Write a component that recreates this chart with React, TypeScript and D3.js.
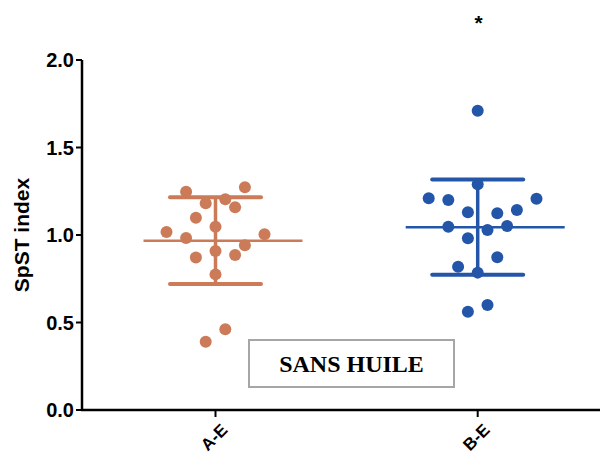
import React from "react";
import * as d3 from "d3";

const categories = ["A-E", "B-E"];
const seriesA = [1.247, 1.273, 1.181, 1.204, 1.158, 1.099, 1.047, 1.017, 0.983, 1.004, 0.941, 0.909, 0.872, 0.886, 0.775, 0.461, 0.39];
const lanesA = [-3, 3, -1, 1, 2, -2, 0, -5, -3, 5, 3, 0, -2, 2, 0, 1, -1];
const seriesB = [1.71, 1.29, 1.21, 1.2, 1.207, 1.13, 1.124, 1.143, 1.047, 1.029, 1.051, 0.981, 0.873, 0.819, 0.785, 0.6, 0.562];
const lanesB = [0, 0, -5, -3, 6, -1, 2, 4, -3, 1, 3, -1, 2, -2, 0, 1, -1];
const yTicks = [0, 0.5, 1.0, 1.5, 2.0];
const colors = ["#cc7b59", "#2356a8"];
const yLabel = "SpST index";
const boxLabel = "SANS HUILE";
const significance = ["", "*"];

export default function App() {
  const W = 600, H = 457;
  const axisX = 82, axisY = 410;
  const y = d3.scaleLinear().domain([0, 2]).range([axisY, 60]);
  const x = d3.scalePoint().domain(categories).range([215.5, 477.7]);
  const lane = d3.scaleLinear().domain([0, 1]).range([0, 9.8]);
  const groups = [
    { vals: seriesA, lanes: lanesA },
    { vals: seriesB, lanes: lanesB },
  ];
  const font = "'Liberation Sans', Arial, sans-serif";
  return (
    <svg width={W} height={H} style={{ position: "absolute", left: 0, top: 0, background: "#fff" }}>
      {/* y axis */}
      <line x1={axisX} x2={axisX} y1={y(2)} y2={axisY} stroke="#000" strokeWidth={2.5} />
      {yTicks.map((t) => (
        <g key={t}>
          <line x1={axisX - 6} x2={axisX} y1={y(t)} y2={y(t)} stroke="#000" strokeWidth={2} />
          <text x={axisX - 8} y={y(t)} dy="0.36em" textAnchor="end" fontFamily={font} fontWeight="bold" fontSize={20} fill="#000">
            {d3.format(".1f")(t)}
          </text>
        </g>
      ))}
      <text transform={`translate(29,${y(1)}) rotate(-90)`} textAnchor="middle" fontFamily={font} fontWeight="bold" fontSize={21} fill="#000">
        {yLabel}
      </text>
      {/* x axis */}
      <line x1={axisX - 1} x2={W} y1={axisY} y2={axisY} stroke="#000" strokeWidth={2.5} />
      {categories.map((c) => (
        <g key={c}>
          <line x1={x(c)!} x2={x(c)!} y1={axisY} y2={axisY + 7} stroke="#000" strokeWidth={2} />
          <text transform={`translate(${x(c)! + 4},${axisY + 12}) rotate(-45)`} textAnchor="end" dy="0.75em" fontFamily={font} fontWeight="bold" fontSize={17} fill="#000">
            {c}
          </text>
        </g>
      ))}
      {/* groups */}
      {groups.map((g, i) => {
        const cx = x(categories[i])!;
        const m = d3.mean(g.vals)!;
        const sd = d3.deviation(g.vals)!;
        const col = colors[i];
        return (
          <g key={i}>
            <line x1={cx - 72} x2={cx + 87} y1={y(m)} y2={y(m)} stroke={col} strokeWidth={2.5} />
            <line x1={cx} x2={cx} y1={y(m + sd)} y2={y(m - sd)} stroke={col} strokeWidth={3.5} />
            <line x1={cx - 45.5} x2={cx + 45.5} y1={y(m + sd)} y2={y(m + sd)} stroke={col} strokeWidth={4} strokeLinecap="round" />
            <line x1={cx - 45.5} x2={cx + 45.5} y1={y(m - sd)} y2={y(m - sd)} stroke={col} strokeWidth={4} strokeLinecap="round" />
            {g.vals.map((v, j) => (
              <circle key={j} cx={cx + lane(g.lanes[j])} cy={y(v)} r={6} fill={col} />
            ))}
            {significance[i] && (
              <text x={cx + 1} y={30} textAnchor="middle" fontFamily={font} fontWeight="bold" fontSize={21} fill="#000">
                {significance[i]}
              </text>
            )}
          </g>
        );
      })}
      {/* label box */}
      <rect x={249} y={340} width={205} height={47} fill="#fff" stroke="#a6a6a6" strokeWidth={2} />
      <text x={351.5} y={364} dy="0.34em" textAnchor="middle" fontFamily="'Liberation Serif', 'Times New Roman', serif" fontWeight="bold" fontSize={24} fill="#000">
        {boxLabel}
      </text>
    </svg>
  );
}
